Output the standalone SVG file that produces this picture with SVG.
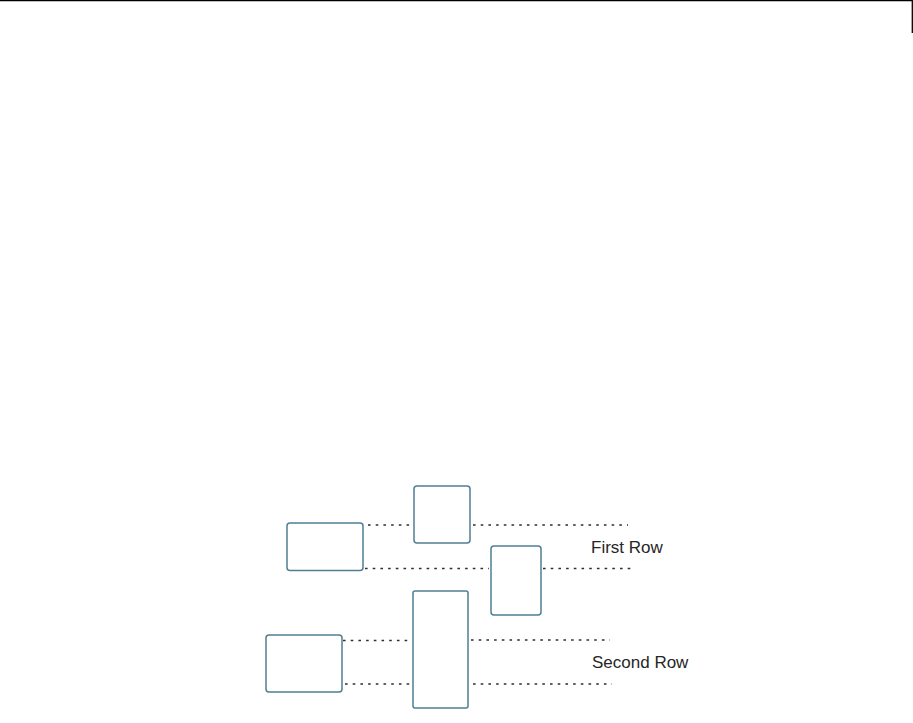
<svg xmlns="http://www.w3.org/2000/svg" width="913" height="723" viewBox="0 0 913 723">
<style>
.box{fill:#ffffff;stroke:#4f7f92;stroke-width:1.5}
.dot{fill:none;stroke:#2f2f2f;stroke-width:1.5;stroke-dasharray:2.6 5.1}
.lbl{font-family:"Liberation Sans",Arial,sans-serif;font-size:17px;fill:#262626}
.frame{fill:none;stroke:#000000;stroke-width:1.3}
</style>
<rect width="913" height="723" fill="#ffffff"/>
<g id="frame">
<line class="frame" x1="0" y1="0.7" x2="912.3" y2="0.7"/>
<line class="frame" x1="912.3" y1="0" x2="912.3" y2="33"/>
</g>
<g id="connectors">
<line class="dot" x1="368" y1="525" x2="412" y2="525"/>
<line class="dot" x1="473" y1="525" x2="628" y2="525"/>
<line class="dot" x1="365" y1="568.5" x2="489" y2="568.5"/>
<line class="dot" x1="543" y1="568.5" x2="631" y2="568.5"/>
<line class="dot" x1="343" y1="640.5" x2="412" y2="640.5"/>
<line class="dot" x1="345" y1="684" x2="410" y2="684"/>
<line class="dot" x1="471" y1="640" x2="610" y2="640"/>
<line class="dot" x1="473" y1="684" x2="612" y2="684"/>
</g>
<g id="node1"><rect class="box" x="287" y="523" width="76" height="47.5" rx="3"/></g>
<g id="node2"><rect class="box" x="414" y="486" width="56" height="57" rx="3"/></g>
<g id="node3"><rect class="box" x="491" y="546" width="50" height="69" rx="3"/></g>
<g id="node4"><rect class="box" x="266" y="635" width="76" height="57" rx="3"/></g>
<g id="node5"><rect class="box" x="413" y="591" width="55" height="117" rx="2"/></g>
<g id="labels">
<text class="lbl" x="591" y="553">First Row</text>
<text class="lbl" x="592" y="668">Second Row</text>
</g>
</svg>
